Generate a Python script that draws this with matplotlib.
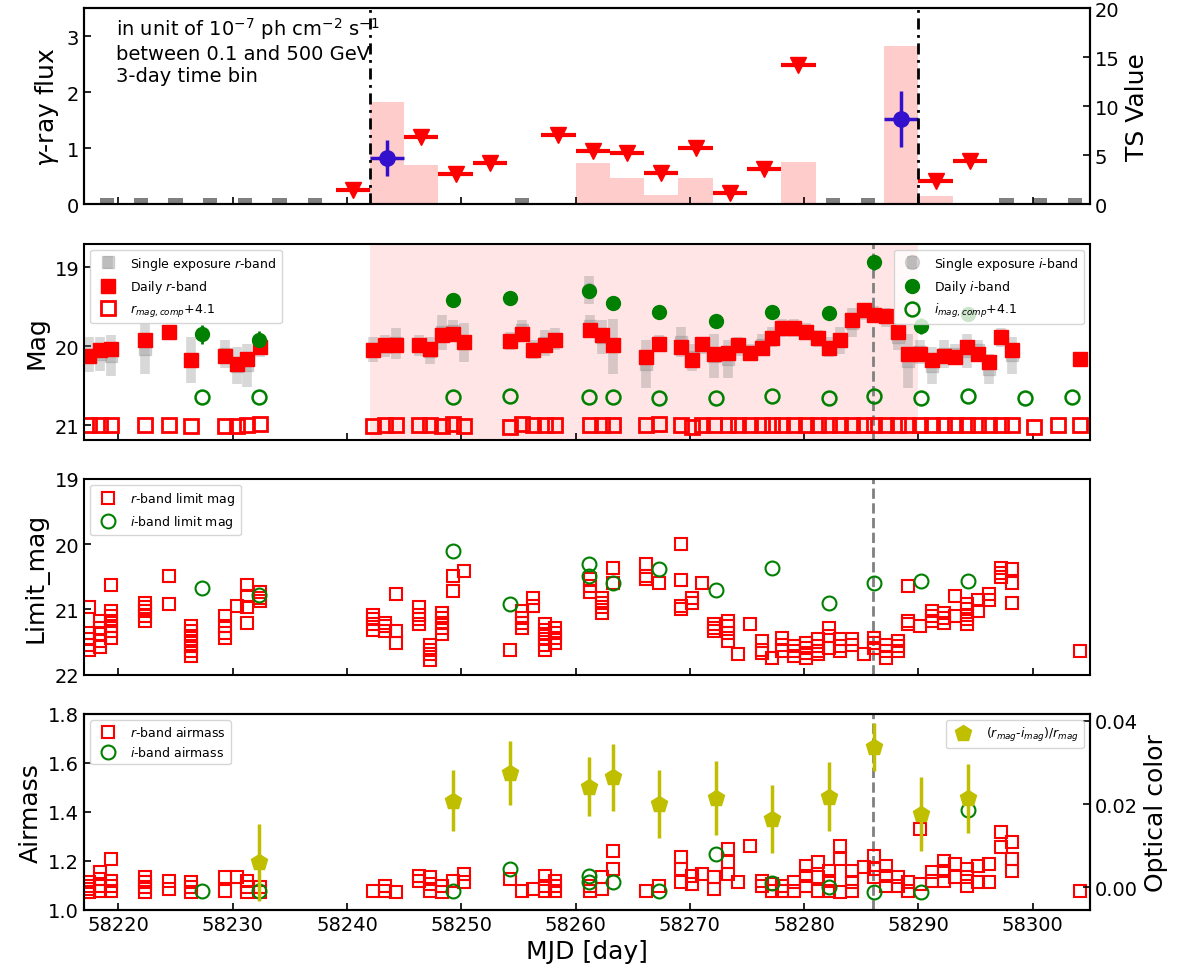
import numpy as np
import matplotlib
matplotlib.use('Agg')
import matplotlib.pyplot as plt
from matplotlib.ticker import FormatStrFormatter

# ---------------- gamma-ray panel (3-day bins) ----------------
ul_t = [58240.5, 58246.5, 58249.5, 58252.5, 58258.5, 58261.5, 58264.5,
        58267.5, 58270.5, 58273.5, 58276.5, 58279.5, 58291.5, 58294.5]
ul_flux = [0.25, 1.21, 0.54, 0.73, 1.23, 0.96, 0.91,
           0.56, 1.00, 0.20, 0.63, 2.49, 0.41, 0.77]
det_t = [58243.5, 58288.5]
det_flux = [0.83, 1.53]
det_err = [0.32, 0.50]
ts_t = [58243.5, 58246.5, 58261.5, 58264.5, 58267.5, 58270.5, 58276.5,
        58279.5, 58288.5, 58291.5, 58294.5]
ts_val = [10.4, 4.06, 4.23, 2.70, 1.00, 2.70, 0.05, 4.33, 16.2, 0.80, 0.17]
nodata_t = [58219.0, 58222.0, 58225.0, 58228.0, 58231.1, 58234.1, 58237.2,
            58255.3, 58282.5, 58285.6, 58297.7, 58300.6, 58303.7]
NODATA_TS = 0.65
flare_start, flare_end = 58242, 58290
peak_day = 58286

# ---------------- optical r-band ----------------
r_day = [58217.4, 58218.4, 58219.4, 58222.3, 58224.4, 58226.4, 58229.3, 58230.4,
         58231.3, 58232.4,
         58242.3, 58243.3, 58244.3, 58246.3, 58247.3, 58248.3, 58249.3, 58250.2,
         58254.3, 58255.3, 58256.3, 58257.3, 58258.2, 58261.3, 58262.3, 58263.3,
         58266.2, 58267.3, 58269.2, 58270.2, 58271.1, 58272.1, 58273.3, 58274.2,
         58275.3, 58276.3, 58277.2, 58278.1, 58279.1, 58280.2, 58281.2, 58282.2,
         58283.1, 58284.2, 58285.2, 58286.1, 58287.2, 58288.2, 58289.1, 58290.1,
         58291.2, 58292.2, 58293.2, 58294.2, 58295.2, 58296.2, 58297.2, 58298.2,
         58304.1]
r_mag = [20.12, 20.05, 20.03, 19.92, 19.82, 20.17, 20.12, 20.22, 20.16, 20.01,
         20.05, 19.98, 19.98, 19.98, 20.03, 19.86, 19.84, 19.95,
         19.93, 19.84, 20.05, 19.98, 19.92, 19.79, 19.86, 19.99,
         20.14, 19.97, 20.01, 20.18, 19.97, 20.10, 20.08, 19.99,
         20.08, 20.02, 19.90, 19.77, 19.77, 19.82, 19.90, 20.02,
         19.92, 19.67, 19.54, 19.60, 19.62, 19.82, 20.10, 20.10,
         20.18, 20.12, 20.14, 20.01, 20.10, 20.20, 19.88, 20.05,
         20.16]
r_err = [0.07, 0.07, 0.07, 0.09, 0.06, 0.08, 0.07, 0.08, 0.07, 0.06,
         0.07, 0.06, 0.06, 0.06, 0.07, 0.06, 0.06, 0.07,
         0.06, 0.06, 0.07, 0.06, 0.06, 0.06, 0.06, 0.07,
         0.08, 0.06, 0.07, 0.07, 0.06, 0.07, 0.07, 0.06,
         0.06, 0.06, 0.06, 0.05, 0.05, 0.05, 0.06, 0.07,
         0.06, 0.06, 0.05, 0.05, 0.05, 0.06, 0.07, 0.06,
         0.07, 0.07, 0.06, 0.07, 0.06, 0.07, 0.06, 0.07,
         0.06]
# bright / faint ends of the single-exposure spread per night
se_r_hi = [19.88, 19.88, 19.86, 19.71, 19.73, 19.88, 19.92, 20.01, 19.97, 19.88,
           19.88, 19.86, 19.77, 19.86, 19.88, 19.60, 19.67, 19.71,
           19.82, 19.67, 19.92, 19.80, 19.77, 19.60, 19.67, 19.65,
           19.92, 19.86, 19.75, 19.97, 19.88, 19.84, 19.92, 19.88,
           19.97, 19.84, 19.75, 19.65, 19.65, 19.71, 19.80, 19.88,
           19.75, 19.52, 19.45, 19.49, 19.52, 19.71, 19.84, 19.92,
           20.01, 19.92, 19.97, 19.84, 19.92, 20.10, 19.77, 19.88,
           20.08]
se_r_lo = [20.33, 20.31, 20.38, 20.35, 19.90, 20.46, 20.27, 20.48, 20.51, 20.14,
           20.20, 20.14, 20.16, 20.12, 20.23, 20.05, 19.95, 20.20,
           20.05, 19.92, 20.16, 20.12, 20.05, 19.88, 20.10, 20.35,
           20.53, 20.05, 20.14, 20.31, 20.10, 20.40, 20.40, 20.12,
           20.18, 20.12, 20.01, 19.88, 19.88, 19.92, 20.01, 20.14,
           20.10, 19.88, 19.67, 19.71, 19.75, 20.05, 20.53, 20.23,
           20.48, 20.27, 20.23, 20.27, 20.18, 20.48, 20.01, 20.35,
           20.23]
comp_r_t = r_day + [58300.1, 58302.2]
comp_r_mag = [21.00, 21.00, 21.00, 21.00, 21.00, 21.01, 21.01, 21.01, 20.99, 20.98,
              21.01, 21.00, 20.99, 21.00, 21.00, 21.01, 20.98, 21.01,
              21.02, 20.98, 21.00, 21.00, 20.99, 20.99, 21.00, 21.00,
              21.00, 20.98, 21.00, 21.02, 21.00, 21.00, 21.00, 21.00,
              21.00, 21.00, 21.00, 21.00, 21.00, 21.00, 21.00, 21.00,
              21.00, 21.00, 21.00, 21.00, 21.00, 21.00, 21.00, 21.00,
              21.00, 21.00, 20.99, 21.00, 21.00, 21.00, 20.99, 21.00,
              21.00, 21.02, 21.00]

# ---------------- optical i-band ----------------
i_day = [58227.3, 58232.3, 58249.3, 58254.3, 58261.2, 58263.3, 58267.3,
         58272.3, 58277.2, 58282.2, 58286.1, 58290.2, 58294.3]
i_mag = [19.85, 19.92, 19.41, 19.39, 19.30, 19.45, 19.57,
         19.68, 19.57, 19.58, 18.94, 19.74, 19.59]
i_err = [0.12, 0.11, 0.09, 0.09, 0.09, 0.09, 0.09,
         0.09, 0.09, 0.09, 0.09, 0.10, 0.09]
se_i_t = [58261.2]
se_i_hi = [19.11]
se_i_lo = [19.47]
comp_i_t = i_day + [58299.3, 58303.4]
comp_i_mag = [20.64, 20.64, 20.64, 20.63, 20.64, 20.64, 20.65,
              20.65, 20.63, 20.65, 20.63, 20.65, 20.63, 20.66, 20.64]

# ---------------- limiting magnitudes (one entry per exposure) ----------------
lim_r = [[20.97, 21.36, 21.46, 21.54, 21.62], [21.18, 21.28, 21.38, 21.48, 21.58],
         [20.62, 21.03, 21.10, 21.18, 21.26, 21.33, 21.44], [20.90, 20.96, 21.03, 21.10, 21.18],
         [20.49, 20.92], [21.26, 21.33, 21.41, 21.49, 21.56, 21.64, 21.72],
         [21.10, 21.26, 21.36, 21.44], [20.95], [20.62, 20.79, 20.97, 21.21], [20.74, 20.82, 20.87],
         [21.08, 21.15, 21.23, 21.31], [21.21, 21.26, 21.33], [20.77, 21.33, 21.51],
         [20.97, 21.08, 21.15, 21.23], [21.54, 21.62, 21.69, 21.77],
         [21.05, 21.13, 21.21, 21.28, 21.38], [20.49, 20.72], [20.41],
         [21.62], [21.03, 21.13, 21.21, 21.28], [20.82, 20.95],
         [21.23, 21.31, 21.38, 21.46, 21.54, 21.62], [21.28, 21.36, 21.44, 21.51],
         [20.54, 20.64, 20.74], [20.82, 20.90, 20.97, 21.05], [20.37, 20.59],
         [20.31, 20.49, 20.54], [20.59], [20.00, 20.55, 20.95, 21.00], [20.82, 20.90],
         [20.60], [21.23, 21.28, 21.33], [21.18, 21.26, 21.36, 21.49], [21.69],
         [21.23], [21.49, 21.62, 21.67], [21.74], [21.44, 21.54, 21.64],
         [21.56, 21.64, 21.72], [21.51, 21.59, 21.67, 21.74], [21.46, 21.56, 21.64, 21.69],
         [21.28, 21.41, 21.59], [21.46, 21.56, 21.64], [21.46, 21.54], [21.69],
         [21.44, 21.51, 21.59], [21.54, 21.64, 21.74], [21.49, 21.56, 21.64],
         [20.64, 21.18, 21.23], [21.26], [21.03, 21.10, 21.18], [21.05, 21.13, 21.21],
         [20.79, 21.10], [20.92, 21.00, 21.08, 21.15, 21.23], [20.85, 21.03],
         [20.77, 20.85], [20.36, 20.44, 20.51], [20.38, 20.59, 20.90],
         [21.64]]
lim_i_t = [58227.3, 58232.3, 58249.3, 58254.3, 58261.2, 58261.2, 58263.3, 58267.3,
           58272.3, 58277.2, 58282.2, 58286.1, 58290.2, 58294.3]
lim_i = [20.68, 20.78, 20.11, 20.92, 20.31, 20.49, 20.59, 20.38,
         20.70, 20.37, 20.90, 20.59, 20.57, 20.57]

# ---------------- airmass (one entry per exposure) ----------------
air_r = [[1.113, 1.099, 1.086, 1.072], [1.154, 1.127, 1.099, 1.079],
         [1.208, 1.120, 1.099, 1.079], [1.133, 1.113, 1.093, 1.072],
         [1.120, 1.086], [1.113, 1.093, 1.072], [1.133, 1.079], [1.133],
         [1.120, 1.093, 1.072], [1.093, 1.072],
         [1.079], [1.099, 1.079], [1.075], [1.140, 1.120], [1.133, 1.106, 1.079],
         [1.099, 1.072], [1.120], [1.147, 1.113],
         [1.127], [1.079], [1.086], [1.140, 1.099, 1.079], [1.120, 1.099, 1.079],
         [1.099, 1.079], [1.133, 1.086], [1.242, 1.167],
         [1.079], [1.099], [1.215, 1.167, 1.113], [1.140, 1.106],
         [1.147], [1.133, 1.086], [1.249, 1.195, 1.147], [1.116],
         [1.263], [1.120, 1.099], [1.106, 1.079], [1.099, 1.079],
         [1.113, 1.079], [1.181, 1.140, 1.099], [1.195, 1.133, 1.079], [1.161, 1.120, 1.079],
         [1.263, 1.208, 1.072], [1.161, 1.113, 1.079], [1.174], [1.222, 1.167, 1.133],
         [1.181, 1.140, 1.099], [1.133, 1.099], [1.113, 1.079], [1.331, 1.106],
         [1.154, 1.120], [1.201, 1.161, 1.120], [1.188, 1.133], [1.167, 1.133, 1.099],
         [1.181, 1.113], [1.188, 1.113], [1.317, 1.256], [1.276, 1.208, 1.161],
         [1.079]]
air_i_t = [58227.3, 58232.3, 58249.3, 58254.3, 58261.2, 58261.2, 58263.3, 58267.3,
           58272.3, 58277.2, 58282.2, 58286.1, 58290.2, 58294.3]
air_i = [1.076, 1.076, 1.076, 1.167, 1.140, 1.116, 1.113, 1.079,
         1.229, 1.110, 1.093, 1.072, 1.075, 1.410]

# ---------------- optical colour ----------------
col_t = [58232.3, 58249.3, 58254.3, 58261.2, 58263.3, 58267.3,
         58272.3, 58277.2, 58282.2, 58286.1, 58290.2, 58294.3]
col_val = [0.0060, 0.0208, 0.0274, 0.0242, 0.0264, 0.0200,
           0.0214, 0.0164, 0.0218, 0.0336, 0.0176, 0.0214]
col_err = [0.0092, 0.0073, 0.0076, 0.0070, 0.0080, 0.0082,
           0.0088, 0.0081, 0.0083, 0.0058, 0.0089, 0.0083]


def flatten(days, groups):
    t, v = [], []
    for d, g in zip(days, groups):
        t += [d] * len(g)
        v += list(g)
    return t, v


fig, axes = plt.subplots(4, 1, figsize=(11.92, 9.79), dpi=100, sharex=True)
fig.subplots_adjust(left=0.0705, right=0.9144, top=0.9905, bottom=0.0695, hspace=0.2)
ax1, ax2, ax3, ax4 = axes

tick_kw = dict(direction='in', labelsize=14, length=5, width=1.2)
lab_fs = 18
dashdot = (0, (4, 2, 1, 2))

# ---- panel 1: gamma-ray ----
ts_ax = ax1.twinx()
ts_ax.bar(ts_t, ts_val, width=3, color='red', alpha=0.2, linewidth=0)
ts_ax.bar(nodata_t, [NODATA_TS] * len(nodata_t), width=1.25, color='gray', linewidth=0)
ts_ax.set_ylim(0, 20)
ts_ax.set_yticks([0, 5, 10, 15, 20])
ts_ax.set_ylabel('TS Value', fontsize=lab_fs)
ts_ax.tick_params(**tick_kw)
ax1.set_zorder(ts_ax.get_zorder() + 1)
ax1.patch.set_visible(False)

ax1.errorbar(ul_t, ul_flux, xerr=1.5, fmt='v', color='red', ms=11,
             elinewidth=3, capsize=0)
ax1.errorbar(det_t, det_flux, xerr=1.5, yerr=det_err, fmt='o', color='#3311cc',
             ms=11, elinewidth=2.5, capsize=0)
for x in (flare_start, flare_end):
    ax1.axvline(x, color='k', ls=dashdot, lw=2)
ax1.set_ylim(0, 3.5)
ax1.set_yticks([0, 1, 2, 3])
ax1.set_ylabel(r'$\gamma$-ray flux', fontsize=lab_fs)
ax1.text(0.032, 0.965, 'in unit of $10^{-7}$ ph cm$^{-2}$ s$^{-1}$\n'
         'between 0.1 and 500 GeV\n3-day time bin',
         transform=ax1.transAxes, fontsize=14, va='top', ha='left')

# ---- panel 2: magnitudes ----
ax2.axvspan(flare_start, flare_end, color='red', alpha=0.1, lw=0)
ax2.axvline(peak_day, color='gray', ls='--', lw=2)
se_mid = (np.array(se_r_hi) + np.array(se_r_lo)) / 2
se_half = (np.array(se_r_lo) - np.array(se_r_hi)) / 2
h_se_r = ax2.errorbar(r_day, se_mid, yerr=se_half, fmt='s', color='gray', alpha=0.3,
                      ms=8, elinewidth=7, capsize=0)
sei_mid = (np.array(se_i_hi) + np.array(se_i_lo)) / 2
sei_half = (np.array(se_i_lo) - np.array(se_i_hi)) / 2
h_se_i = ax2.errorbar(se_i_t, sei_mid, yerr=sei_half, fmt='o', color='gray', alpha=0.3,
                      ms=10, elinewidth=7, capsize=0)
h_r = ax2.errorbar(r_day, r_mag, yerr=r_err, fmt='s', color='red', ms=10,
                   elinewidth=2, capsize=0)
h_i = ax2.errorbar(i_day, i_mag, yerr=i_err, fmt='o', color='green', ms=10,
                   elinewidth=2, capsize=0)
h_cr, = ax2.plot(comp_r_t, comp_r_mag, 's', mfc='none', mec='red', mew=2, ms=10)
h_ci, = ax2.plot(comp_i_t, comp_i_mag, 'o', mfc='none', mec='green', mew=1.8, ms=10)
ax2.set_ylim(21.18, 18.7)
ax2.set_yticks([19, 20, 21])
ax2.set_ylabel('Mag', fontsize=lab_fs)
leg_r = ax2.legend([h_se_r, h_r, h_cr],
                   ['Single exposure $r$-band', 'Daily $r$-band', '$r_{mag,comp}$+4.1'],
                   loc='upper left', fontsize=9)
ax2.add_artist(leg_r)
ax2.legend([h_se_i, h_i, h_ci],
           ['Single exposure $i$-band', 'Daily $i$-band', '$i_{mag,comp}$+4.1'],
           loc='upper right', fontsize=9)

# ---- panel 3: limiting magnitudes ----
lr_t, lr_v = flatten(r_day, lim_r)
ax3.axvline(peak_day, color='gray', ls='--', lw=2)
ax3.plot(lr_t, lr_v, 's', mfc='none', mec='red', mew=1.5, ms=9, label='$r$-band limit mag')
ax3.plot(lim_i_t, lim_i, 'o', mfc='none', mec='green', mew=1.5, ms=10,
         label='$i$-band limit mag')
ax3.set_ylim(22, 19)
ax3.set_yticks([19, 20, 21, 22])
ax3.set_ylabel('Limit_mag', fontsize=lab_fs)
ax3.legend(loc='upper left', fontsize=9)

# ---- panel 4: airmass + colour ----
ar_t, ar_v = flatten(r_day, air_r)
ax4.axvline(peak_day, color='gray', ls='--', lw=2)
ax4.plot(ar_t, ar_v, 's', mfc='none', mec='red', mew=1.5, ms=9, label='$r$-band airmass')
ax4.plot(air_i_t, air_i, 'o', mfc='none', mec='green', mew=1.5, ms=10,
         label='$i$-band airmass')
ax4.set_ylim(1.0, 1.8)
ax4.set_yticks([1.0, 1.2, 1.4, 1.6, 1.8])
ax4.set_ylabel('Airmass', fontsize=lab_fs)
ax4.legend(loc='upper left', fontsize=9)
col_ax = ax4.twinx()
col_ax.errorbar(col_t, col_val, yerr=col_err, fmt='p', color='y', ms=12,
                elinewidth=2.5, capsize=0, label='$(r_{mag}$-$i_{mag})/r_{mag}$')
col_ax.set_ylim(-0.0054, 0.0416)
col_ax.set_yticks([0.0, 0.02, 0.04])
col_ax.yaxis.set_major_formatter(FormatStrFormatter('%.2f'))
col_ax.set_ylabel('Optical color', fontsize=lab_fs)
col_ax.tick_params(**tick_kw)
col_ax.legend(loc='upper right', fontsize=9)

ax4.set_xlim(58217, 58305)
ax4.set_xticks(np.arange(58220, 58301, 10))
ax4.ticklabel_format(axis='x', useOffset=False, style='plain')
ax4.set_xlabel('MJD [day]', fontsize=lab_fs)

for ax in axes:
    ax.tick_params(**tick_kw)
for ax in list(axes) + [ts_ax, col_ax]:
    for s in ax.spines.values():
        s.set_linewidth(1.5)

fig.savefig('out.png', dpi=100)
